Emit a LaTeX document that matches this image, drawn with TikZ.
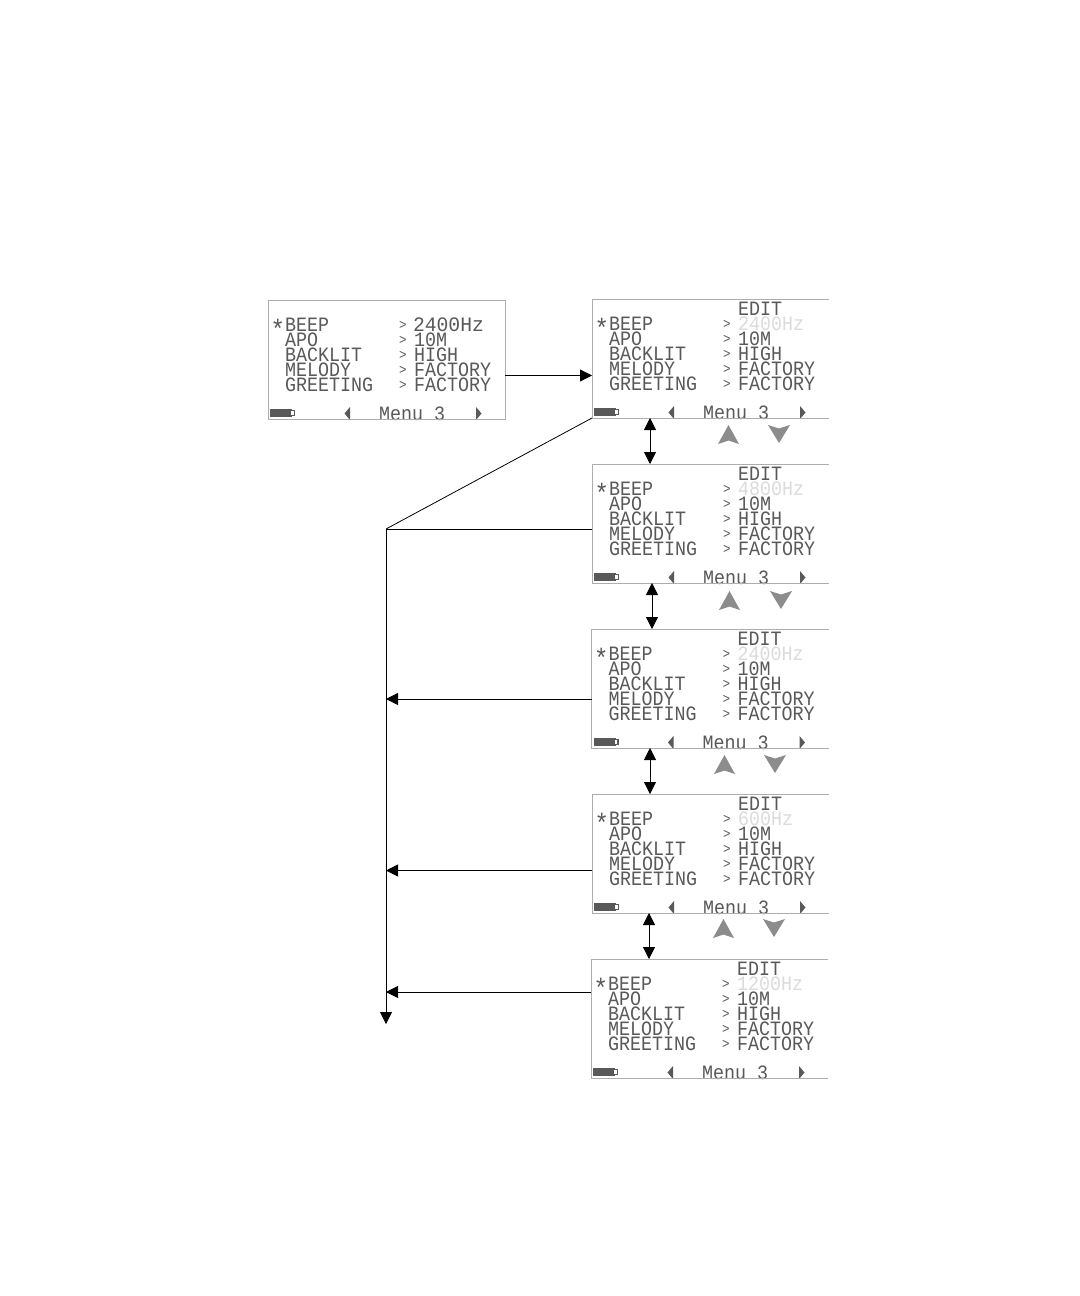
\documentclass[tikz,border=0pt]{standalone}
\usepackage{fontspec}
\usetikzlibrary{arrows.meta,calc}
\newfontfamily\lcdfont[FakeStretch=0.9]{Liberation Mono}
\newfontfamily\lcdwidefont[FakeStretch=0.96]{Liberation Mono}
\definecolor{lcdtext}{gray}{0.35}
\definecolor{lcdfaded}{gray}{0.86}
\definecolor{panelline}{gray}{0.68}
\definecolor{keygray}{gray}{0.55}
\tikzset{
  x=0.75pt,y=-0.75pt,
  lcd/.style={anchor=base west,inner sep=0pt,outer sep=0pt,text=lcdtext,font=\lcdfont\fontsize{15.28pt}{15pt}\selectfont},
  lcdwide/.style={lcd,font=\lcdwidefont\fontsize{15.4pt}{15pt}\selectfont},
  lcdmark/.style={lcd,font=\lcdfont\fontsize{10.5pt}{11pt}\selectfont},
  lcdstar/.style={lcd,font=\lcdfont\fontsize{20pt}{15pt}\selectfont},
  lcdfade/.style={lcd,text=lcdfaded},
  panel/.style={anchor=north west,inner sep=0pt,outer sep=0pt,minimum width=178pt,minimum height=89.25pt},
  panelrule/.style={draw=panelline,line width=0.6pt},
  conn/.style={draw=black,line width=0.6pt},
  arr/.style={conn,-{Triangle[length=9pt,width=9pt]}},
  darr/.style={conn,{Triangle[length=9pt,width=9pt]}-{Triangle[length=9pt,width=9pt]}},
  keyfill/.style={fill=keygray,draw=none},
}
% name, x, y
\newcommand{\lcdbody}[3]{%
  \node[panel] (#1) at (#2,#3) {};
  \node[lcdstar] (#1-star) at (#2+2.5,#3+38.5) {*};
  \node[lcd] (#1-a) at (#2+17,#3+31) {BEEP};
  \node[lcd] (#1-b) at (#2+17,#3+46) {APO};
  \node[lcd] (#1-c) at (#2+17,#3+61) {BACKLIT};
  \node[lcd] (#1-d) at (#2+17,#3+76) {MELODY};
  \node[lcd] (#1-e) at (#2+17,#3+91) {GREETING};
  \node[lcdmark] (#1-ga) at (#2+131,#3+29) {>};
  \node[lcdmark] (#1-gb) at (#2+131,#3+44) {>};
  \node[lcdmark] (#1-gc) at (#2+131,#3+59) {>};
  \node[lcdmark] (#1-gd) at (#2+131,#3+74) {>};
  \node[lcdmark] (#1-ge) at (#2+131,#3+89) {>};
  \node[lcd] (#1-vb) at (#2+146,#3+46) {10M};
  \node[lcd] (#1-vc) at (#2+146,#3+61) {HIGH};
  \node[lcd] (#1-vd) at (#2+146,#3+76) {FACTORY};
  \node[lcd] (#1-ve) at (#2+146,#3+91) {FACTORY};
  \node[lcd] (#1-menu) at (#2+111,#3+120) {Menu 3};
  \fill[lcdtext] (#2+2,#3+108.5) rectangle (#2+24,#3+117);
  \fill[lcdtext] (#2+24,#3+110) rectangle (#2+27,#3+115.5);
  \fill[white] (#2+23,#3+110.5) rectangle (#2+25.5,#3+115);
  \fill[lcdtext] (#2+82,#3+107) -- (#2+82,#3+120) -- (#2+76.5,#3+113.5) -- cycle;
  \fill[lcdtext] (#2+208,#3+107) -- (#2+208,#3+120) -- (#2+213.5,#3+113.5) -- cycle;
}
% name, x, y, value
\newcommand{\editscreen}[4]{%
  \lcdbody{#1}{#2}{#3}
  \node[lcd] (#1-edit) at (#2+146,#3+16) {EDIT};
  \node[lcdfade] (#1-va) at (#2+146,#3+31) {#4};
  \draw[panelrule] (#2+237,#3) -- (#2,#3) -- (#2,#3+119) -- (#2+237,#3+119);
}
% up-key x, down-key x, y
\newcommand{\updown}[3]{%
  \fill[keyfill] (#1+10.5,#3) -- (#1+21,#3+19) -- (#1+10.5,#3+15.5) -- (#1,#3+19) -- cycle;
  \fill[keyfill] (#2+11,#3+18) -- (#2+22,#3) -- (#2+11,#3+3.5) -- (#2,#3) -- cycle;
}
\begin{document}
\begin{tikzpicture}
\useasboundingbox[fill=white] (0,0) rectangle (1080,1296);

\lcdbody{s0}{268}{300}
\node[lcdwide] (s0-va) at (268+145,300+31) {2400Hz};
\draw[panelrule] (268,300) rectangle (505,419);

\editscreen{s1}{592}{299}{2400Hz}
\editscreen{s2}{592}{464}{4800Hz}
\editscreen{s3}{591.5}{629}{2400Hz}
\editscreen{s4}{592}{794}{600Hz}
\editscreen{s5}{591}{959}{1200Hz}

\updown{718}{768}{425}
\updown{719}{770}{591}
\updown{714}{764}{755}
\updown{713}{763}{919}

\coordinate (hub) at (386,529);
\coordinate (down) at (386,1024);
\coordinate (s1corner) at (592,418);

\draw[arr] ($(s0.east)+(0,16)$) -- ($(s1.west)+(0,17)$);
\draw[conn] (s1corner) -- (hub);
\draw[conn] ($(s2.west)+(0,5.5)$) -- (hub);
\draw[arr] (hub) -- (down);
\draw[arr] ($(s3.west)+(0,10.5)$) -- (hub |- {$(s3.west)+(0,10.5)$});
\draw[arr] ($(s4.west)+(0,17)$) -- (hub |- {$(s4.west)+(0,17)$});
\draw[arr] ($(s5.west)+(0,-26.5)$) -- (hub |- {$(s5.west)+(0,-26.5)$});

\draw[darr] (s1.south -| 650,0) -- (s2.north -| 650,0);
\draw[darr] (s2.south -| 652,0) -- (s3.north -| 652,0);
\draw[darr] (s3.south -| 650,0) -- (s4.north -| 650,0);
\draw[darr] (s4.south -| 649,0) -- (s5.north -| 649,0);
\end{tikzpicture}
\end{document}
